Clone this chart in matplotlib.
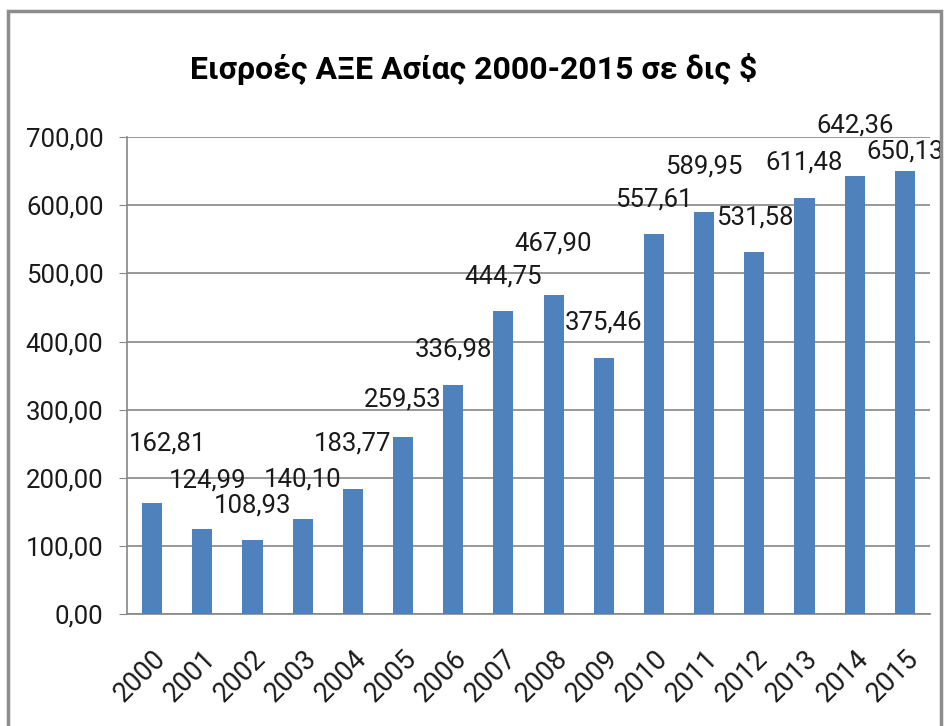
import matplotlib.pyplot as plt
from matplotlib.patches import Rectangle
from matplotlib.transforms import ScaledTranslation

years = [str(y) for y in range(2000, 2016)]
inflows = [162.81, 124.99, 108.93, 140.10, 183.77, 259.53, 336.98, 444.75,
           467.90, 375.46, 557.61, 589.95, 531.58, 611.48, 642.36, 650.13]
# label placement as in the original (points from bar top)
label_dy = [43, 35, 25, 28, 33, 27, 25, 25, 37, 26, 25, 33, 25, 25, 37, 14]
label_dx = [11, 4, 0, 0, 0, 0, 0, 0, 0, 0, 0, 0, 0, 0, 0, 0]
yticks = [0, 100, 200, 300, 400, 500, 600, 700]

plt.rcParams['font.family'] = ['Roboto', 'DejaVu Sans']

fig = plt.figure(figsize=(9.48, 7.26), dpi=100)
ax = fig.add_axes([127 / 948, 0.154, 803 / 948, 0.657])

x = list(range(len(years)))
ax.bar(x, inflows, width=0.4, color="#4F81BD", zorder=3)

def fmt(v):
    return f"{v:.2f}".replace(".", ",")

for xi, v, dx, dy in zip(x, inflows, label_dx, label_dy):
    ax.annotate(fmt(v), (xi, v), xytext=(dx, dy), textcoords="offset points",
                ha="center", va="center", fontsize=18.5, color="#1a1a1a")

ax.set_ylim(0, 700)
ax.set_xlim(-0.5, len(years) - 0.5)
ax.set_yticks(yticks)
ax.set_yticklabels([fmt(t) for t in yticks], fontsize=18.5, color="#1a1a1a")
ax.set_xticks(x)
ax.set_xticklabels(years, rotation=45, ha="right", rotation_mode="anchor",
                   fontsize=19.5, color="#1a1a1a")
shift = ScaledTranslation(-6 / 100, -4 / 100, fig.dpi_scale_trans)
for lab in ax.get_xticklabels():
    lab.set_transform(lab.get_transform() + shift)
ax.tick_params(axis="x", length=0, pad=22)
ax.tick_params(axis="y", length=6, color="#868686", pad=11)
ax.grid(axis="y", color="#868686", linewidth=1.2, zorder=0)
for s in ["top", "right"]:
    ax.spines[s].set_visible(False)
for s in ["left", "bottom"]:
    ax.spines[s].set_color("#868686")
    ax.spines[s].set_linewidth(1.2)

fig.text(0.5, 0.905, "Εισροές ΑΞΕ Ασίας 2000-2015 σε δις $", ha="center",
         va="center", fontsize=23, fontweight="bold")

fig.patches.append(Rectangle((8 / 948, -0.02), 933 / 948, 1.02 - 11 / 726,
                             transform=fig.transFigure, fill=False,
                             edgecolor="#8c8c8c", linewidth=2.5))

fig.savefig("out.png", dpi=100)
